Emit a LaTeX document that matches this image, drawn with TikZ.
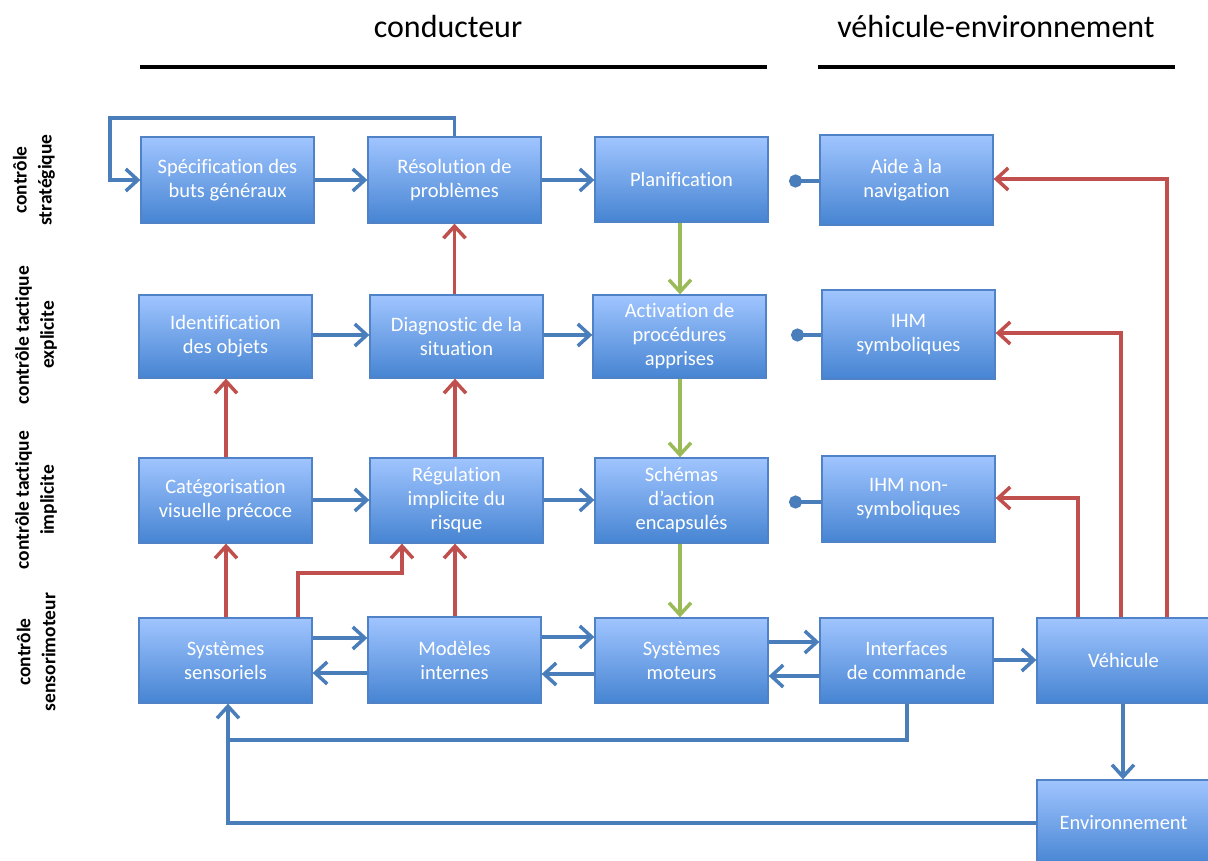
\documentclass[tikz,border=0pt]{standalone}
\usepackage{fontspec}
\setmainfont{Carlito}[Ligatures={NoCommon}]
\usetikzlibrary{arrows.meta}
\definecolor{bline}{RGB}{74,126,187}
\definecolor{rline}{RGB}{192,80,77}
\definecolor{gline}{RGB}{155,187,89}
\definecolor{boxtop}{RGB}{160,197,255}
\definecolor{boxbot}{RGB}{70,132,210}
\definecolor{boxedge}{RGB}{80,130,200}
\tikzset{
  x=1pt, y=-1pt,
  blk/.style={draw=boxedge, line width=1.3pt, top color=boxtop, bottom color=boxbot,
    minimum width=173pt, minimum height=86pt, inner sep=0pt, text=white,
    align=center, font=\fontsize{20.5}{24}\selectfont},
  lvl/.style={rotate=90, align=center, font=\fontsize{19.5}{25}\selectfont\bfseries},
  hdr/.style={font=\fontsize{32}{36}\selectfont},
  conn/.style={line width=3.5pt},
  tip/.style={-{Straight Barb[length=12pt,width=22pt]}},
  barrow/.style={conn, draw=bline, tip},
  bplain/.style={conn, draw=bline},
  rarrow/.style={conn, draw=rline, tip},
  garrow/.style={conn, draw=gline, tip},
  dotline/.style={conn, draw=bline, {Circle[length=13pt]}-},
}
\begin{document}
\begin{tikzpicture}
\clip (0,0) rectangle (1208,861);
\fill[white] (0,0) rectangle (1208,861);
% headers
\node[hdr] (hc) at (448,27) {conducteur};
\node[hdr] (hv) at (996,27) {véhicule-environnement};
\coordinate (hc1) at (140,67); \coordinate (hc2) at (767,67);
\coordinate (hv1) at (818,67); \coordinate (hv2) at (1175,67);
\draw[line width=4pt] (hc1) -- (hc2);
\draw[line width=4pt] (hv1) -- (hv2);
% level labels
\node[lvl] (l1) at (34,180) {contrôle\\stratégique};
\node[lvl] (l2) at (36,335) {contrôle tactique\\explicite};
\node[lvl] (l3) at (36,500) {contrôle tactique\\implicite};
\node[lvl] (l4) at (36,652) {contrôle\\sensorimoteur};
% row 1
\node[blk] (spec) at (227.5,180) {Spécification des\\buts généraux};
\node[blk] (res) at (454.5,180) {Résolution de\\problèmes};
\node[blk, minimum height=85pt] (plan) at (681.5,179.5) {Planification};
\node[blk, minimum height=90pt] (aide) at (906.5,180) {Aide à la\\navigation};
% row 2
\node[blk, minimum height=83pt] (ident) at (225.5,336.5) {Identification\\des objets};
\node[blk, minimum height=83pt] (diag) at (456.5,336.5) {Diagnostic de la\\situation};
\node[blk, minimum height=83pt] (activ) at (679.5,336.5) {Activation de\\procédures\\apprises};
\node[blk, minimum height=89pt] (ihms) at (908.5,334.5) {IHM\\symboliques};
% row 3
\node[blk, minimum height=85pt] (categ) at (225.5,500.5) {Catégorisation\\visuelle précoce};
\node[blk, minimum height=85pt] (regul) at (456.5,500.5) {Régulation\\implicite du\\risque};
\node[blk, minimum height=85pt] (schem) at (681.5,500.5) {Schémas\\d’action\\encapsulés};
\node[blk, minimum height=86pt] (ihmn) at (908.5,499) {IHM non-\\symboliques};
% row 4
\node[blk, minimum height=85pt] (sens) at (225.5,660.5) {Systèmes\\sensoriels};
\node[blk, minimum height=86pt] (model) at (454.5,660) {Modèles\\internes};
\node[blk, minimum height=85pt] (mot) at (681.5,660.5) {Systèmes\\moteurs};
\node[blk, minimum height=85pt] (intf) at (906.5,660.5) {Interfaces\\de commande};
\node[blk, minimum height=85pt] (veh) at (1123.5,660.5) {Véhicule};
\node[blk, minimum height=86pt] (env) at (1123.5,823) {Environnement};
% blue connectors, top row
\coordinate (loopL) at (110,118);
\draw[barrow] (res.north) |- (loopL) |- (spec.west);
\draw[barrow] (spec.east) -- (res.west);
\draw[barrow] (res.east |- 0,180) -- (plan.west |- 0,180);
\coordinate (d1) at (789,181);
\draw[dotline] (d1) -- (aide.west |- d1);
% row 2
\draw[barrow] (ident.east |- 0,335) -- (diag.west |- 0,335);
\draw[barrow] (diag.east |- 0,335) -- (activ.west |- 0,335);
\coordinate (d2) at (791,335);
\draw[dotline] (d2) -- (ihms.west |- d2);
% row 3
\draw[barrow] (categ.east |- 0,500) -- (regul.west |- 0,500);
\draw[barrow] (regul.east |- 0,500) -- (schem.west |- 0,500);
\coordinate (d3) at (789,502);
\draw[dotline] (d3) -- (ihmn.west |- d3);
% row 4
\draw[barrow] (sens.east |- 0,638) -- (model.west |- 0,638);
\draw[barrow] (model.west |- 0,673) -- (sens.east |- 0,673);
\draw[barrow] (model.east |- 0,637) -- (mot.west |- 0,637);
\draw[barrow] (mot.west |- 0,674) -- (model.east |- 0,674);
\draw[barrow] (mot.east |- 0,642) -- (intf.west |- 0,642);
\draw[barrow] (intf.west |- 0,676) -- (mot.east |- 0,676);
\draw[barrow] (intf.east |- 0,660) -- (veh.west |- 0,660);
% feedback loops at bottom
\coordinate (fb) at (228,740);
\draw[bplain] (intf.south -| 907,0) |- (fb);
\draw[barrow] (env.west) -| (sens.south -| fb);
\draw[barrow] (veh.south -| 1123,0) -- (env.north -| 1123,0);
% red connectors
\draw[rarrow] (diag.north -| res.south) -- (res.south);
\draw[rarrow] (categ.north -| 226,0) -- (ident.south -| 226,0);
\draw[rarrow] (regul.north -| 455,0) -- (diag.south -| 455,0);
\draw[rarrow] (sens.north -| 226,0) -- (categ.south -| 226,0);
\coordinate (rk) at (402,573);
\draw[rarrow] (sens.north -| 298,0) |- (rk) -- (regul.south -| rk);
\draw[rarrow] (model.north -| 455,0) -- (regul.south -| 455,0);
\draw[rarrow] (veh.north -| 1078,0) |- (ihmn.east |- 0,498);
\draw[rarrow] (veh.north -| 1121,0) |- (ihms.east |- 0,333);
\draw[rarrow] (veh.north -| 1167,0) |- (aide.east |- 0,179);
% green connectors
\draw[garrow] (plan.south -| 680,0) -- (activ.north -| 680,0);
\draw[garrow] (activ.south -| 680,0) -- (schem.north -| 680,0);
\draw[garrow] (schem.south -| 680,0) -- (mot.north -| 680,0);
\end{tikzpicture}
\end{document}
